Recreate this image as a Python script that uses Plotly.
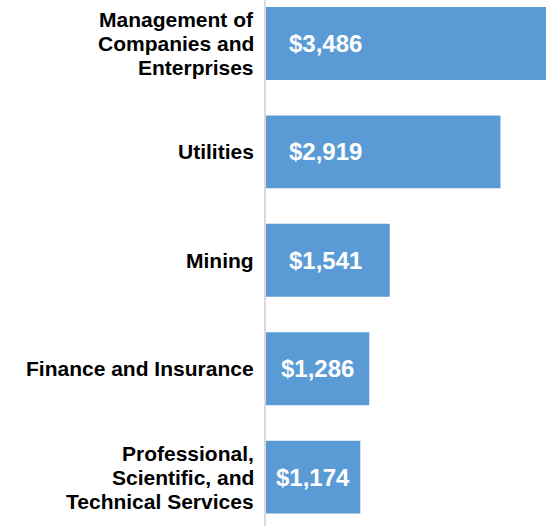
import plotly.graph_objects as go

categories = [
    "Management of<br>Companies and<br>Enterprises",
    "Utilities",
    "Mining",
    "Finance and Insurance",
    "Professional,<br>Scientific, and<br>Technical Services",
]
values = [3486, 2919, 1541, 1286, 1174]
value_labels = ["$3,486", "$2,919", "$1,541", "$1,286", "$1,174"]

BAR_COLOR = "#5B9BD5"
FONT = "Liberation Sans, Arial, sans-serif"
LINE_H = 24

fig = go.Figure(
    go.Bar(
        x=values,
        y=list(range(len(categories))),
        orientation="h",
        marker=dict(color=BAR_COLOR, line=dict(width=0)),
        hoverinfo="skip",
    )
)

# category labels, one annotation per line so the line spacing is tight
for i, cat in enumerate(categories):
    lines = cat.split("<br>")
    n = len(lines)
    for k, line in enumerate(lines):
        fig.add_annotation(
            x=0, xref="paper", xanchor="right", xshift=-10,
            y=i, yref="y", yanchor="middle", yshift=((n - 1) / 2 - k) * LINE_H,
            text=f"<b>{line}</b>", align="center", showarrow=False,
            font=dict(family=FONT, size=21, color="black"),
        )

# value labels inside the bars
for i, (v, lab) in enumerate(zip(values, value_labels)):
    fig.add_annotation(
        x=min(v / 2, 735), y=i, xanchor="center", yanchor="middle",
        text=f"<b>{lab}</b>", showarrow=False,
        font=dict(family=FONT, size=24, color="white"),
    )

fig.update_layout(
    width=550, height=526,
    margin=dict(l=266, r=4, t=0, b=0),
    paper_bgcolor="white", plot_bgcolor="white",
    bargap=0.327,
    showlegend=False,
    xaxis=dict(range=[0, max(values)], visible=False),
    yaxis=dict(
        range=[4.451, -0.401],
        showticklabels=False, showgrid=False, zeroline=False,
        showline=True, linecolor="#d9d9d9", linewidth=2,
    ),
)

# drop the default 8px body margin so the figure fills the window exactly
fig.write_html(
    "out.html",
    config={"displayModeBar": False},
    post_script="document.body.style.margin='0';document.body.style.overflow='hidden';",
)
